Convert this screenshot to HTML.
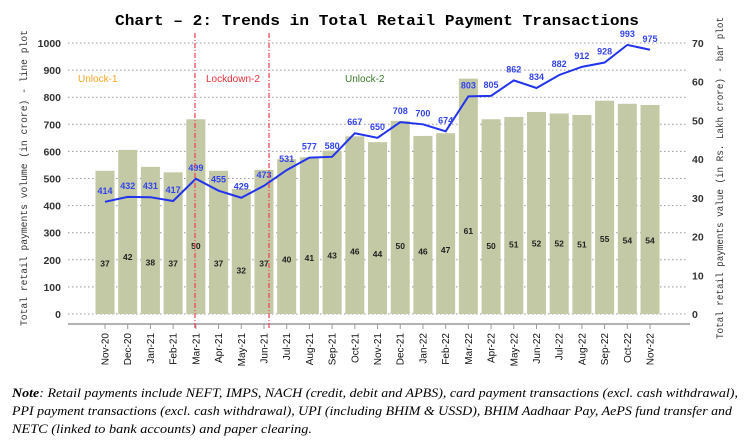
<!DOCTYPE html>
<html><head><meta charset="utf-8"><style>
body{margin:0;background:#fff;width:753px;height:445px;overflow:hidden}
svg{display:block}
</style></head><body>
<svg id="c" width="753" height="445" xmlns="http://www.w3.org/2000/svg" font-family="Liberation Sans, Arial, sans-serif">
<text x="377" y="25" text-anchor="middle" font-family="Liberation Mono, monospace" font-weight="bold" font-size="15" textLength="524" lengthAdjust="spacingAndGlyphs">Chart – 2: Trends in Total Retail Payment Transactions</text>
<text transform="translate(27,178) rotate(-90)" text-anchor="middle" font-family="Liberation Mono, monospace" font-size="10" fill="#333" textLength="296" lengthAdjust="spacingAndGlyphs">Total retail payments volume (in crore) - line plot</text>
<text transform="translate(723,178) rotate(-90)" text-anchor="middle" font-family="Liberation Mono, monospace" font-size="10" fill="#333" textLength="322" lengthAdjust="spacingAndGlyphs">Total retail payments value (in Rs. Lakh crore) - bar plot</text>
<g id="g"></g>
<line x1="68" y1="324" x2="690" y2="324" stroke="#999" stroke-width="1.5"/>
<line x1="195" y1="33" x2="195" y2="330" stroke="#f04050" stroke-dasharray="5,2,1,2" stroke-width="1.2"/>
<line x1="269" y1="33" x2="269" y2="330" stroke="#f04050" stroke-dasharray="5,2,1,2" stroke-width="1.2"/>
<text x="78" y="82" font-size="10" fill="#f5a623">Unlock-1</text>
<text x="206" y="82" font-size="10" fill="#e8303a">Lockdown-2</text>
<text x="345" y="82" font-size="10" fill="#3a7a2a">Unlock-2</text>
<g font-family="Liberation Serif, serif" font-style="italic" font-size="13">
<text x="12" y="397" textLength="726" lengthAdjust="spacingAndGlyphs"><tspan font-weight="bold">Note</tspan>: Retail payments include NEFT, IMPS, NACH (credit, debit and APBS), card payment transactions (excl. cash withdrawal),</text>
<text x="12" y="415" textLength="720" lengthAdjust="spacingAndGlyphs">PPI payment transactions (excl. cash withdrawal), UPI (including BHIM &amp; USSD), BHIM Aadhaar Pay, AePS fund transfer and</text>
<text x="12" y="433" textLength="300" lengthAdjust="spacingAndGlyphs">NETC (linked to bank accounts) and paper clearing.</text>
</g>
</svg>
<script>
var NS="http://www.w3.org/2000/svg",g=document.getElementById("g");
function el(t,a,txt){var e=document.createElementNS(NS,t);for(var k in a)e.setAttribute(k,a[k]);if(txt!==undefined)e.textContent=txt;g.appendChild(e);return e;}
var m=["Nov-20","Dec-20","Jan-21","Feb-21","Mar-21","Apr-21","May-21","Jun-21","Jul-21","Aug-21","Sep-21","Oct-21","Nov-21","Dec-21","Jan-22","Feb-22","Mar-22","Apr-22","May-22","Jun-22","Jul-22","Aug-22","Sep-22","Oct-22","Nov-22"];
var bv=[37,42.4,38,36.6,50.3,37,32.3,37.2,40,40.5,42.2,45.9,44.4,49.9,46,46.7,60.8,50.3,50.9,52.2,51.8,51.4,55.1,54.3,54];
var bl=[37,42,38,37,50,37,32,37,40,41,43,46,44,50,46,47,61,50,51,52,52,51,55,54,54];
var lv=[414,432,431,417,499,455,429,473,531,577,580,667,650,708,700,674,803,805,862,834,882,912,928,993,975];
var Y0=314;
for(var i=0;i<=10;i++){var y=Y0-i*27.1;el("line",{x1:68,y1:y,x2:688,y2:y,stroke:"#999","stroke-dasharray":"1.5,2.5","stroke-width":1});
el("text",{x:61,y:y+4,"text-anchor":"end","font-size":"10.5","font-weight":"bold",fill:"#333"},String(i*100));}
for(var i=0;i<=7;i++){var y=Y0-i*10*3.871;el("text",{x:692,y:y+4,"font-size":"10.5","font-weight":"bold",fill:"#333"},String(i*10));}
var pts=[];
for(var i=0;i<25;i++){var x=105+i*22.71;var h=bv[i]*3.871;
el("rect",{x:x-9.5,y:Y0-h,width:19,height:h,fill:"#c2c9a4"});
el("text",{x:x,y:Y0-bl[i]*1.36+3,"text-anchor":"middle","font-size":"8.5","font-weight":"bold",fill:"#222"},String(bl[i]));
el("line",{x1:x,y1:324,x2:x,y2:329,stroke:"#999"});
el("text",{transform:"translate("+(x+3.5)+",333) rotate(-90)","text-anchor":"end","font-size":"10",fill:"#111"},m[i]);
pts.push(x+","+(Y0-lv[i]*0.271));}
el("polyline",{points:pts.join(" "),fill:"none",stroke:"#2233ee","stroke-width":2});
for(var i=0;i<25;i++){var x=105+i*22.71;el("text",{x:x,y:Y0-lv[i]*0.271-8,"text-anchor":"middle","font-size":"9","font-weight":"bold",fill:"#3344ee"},String(lv[i]));}
</script>
</body></html>
